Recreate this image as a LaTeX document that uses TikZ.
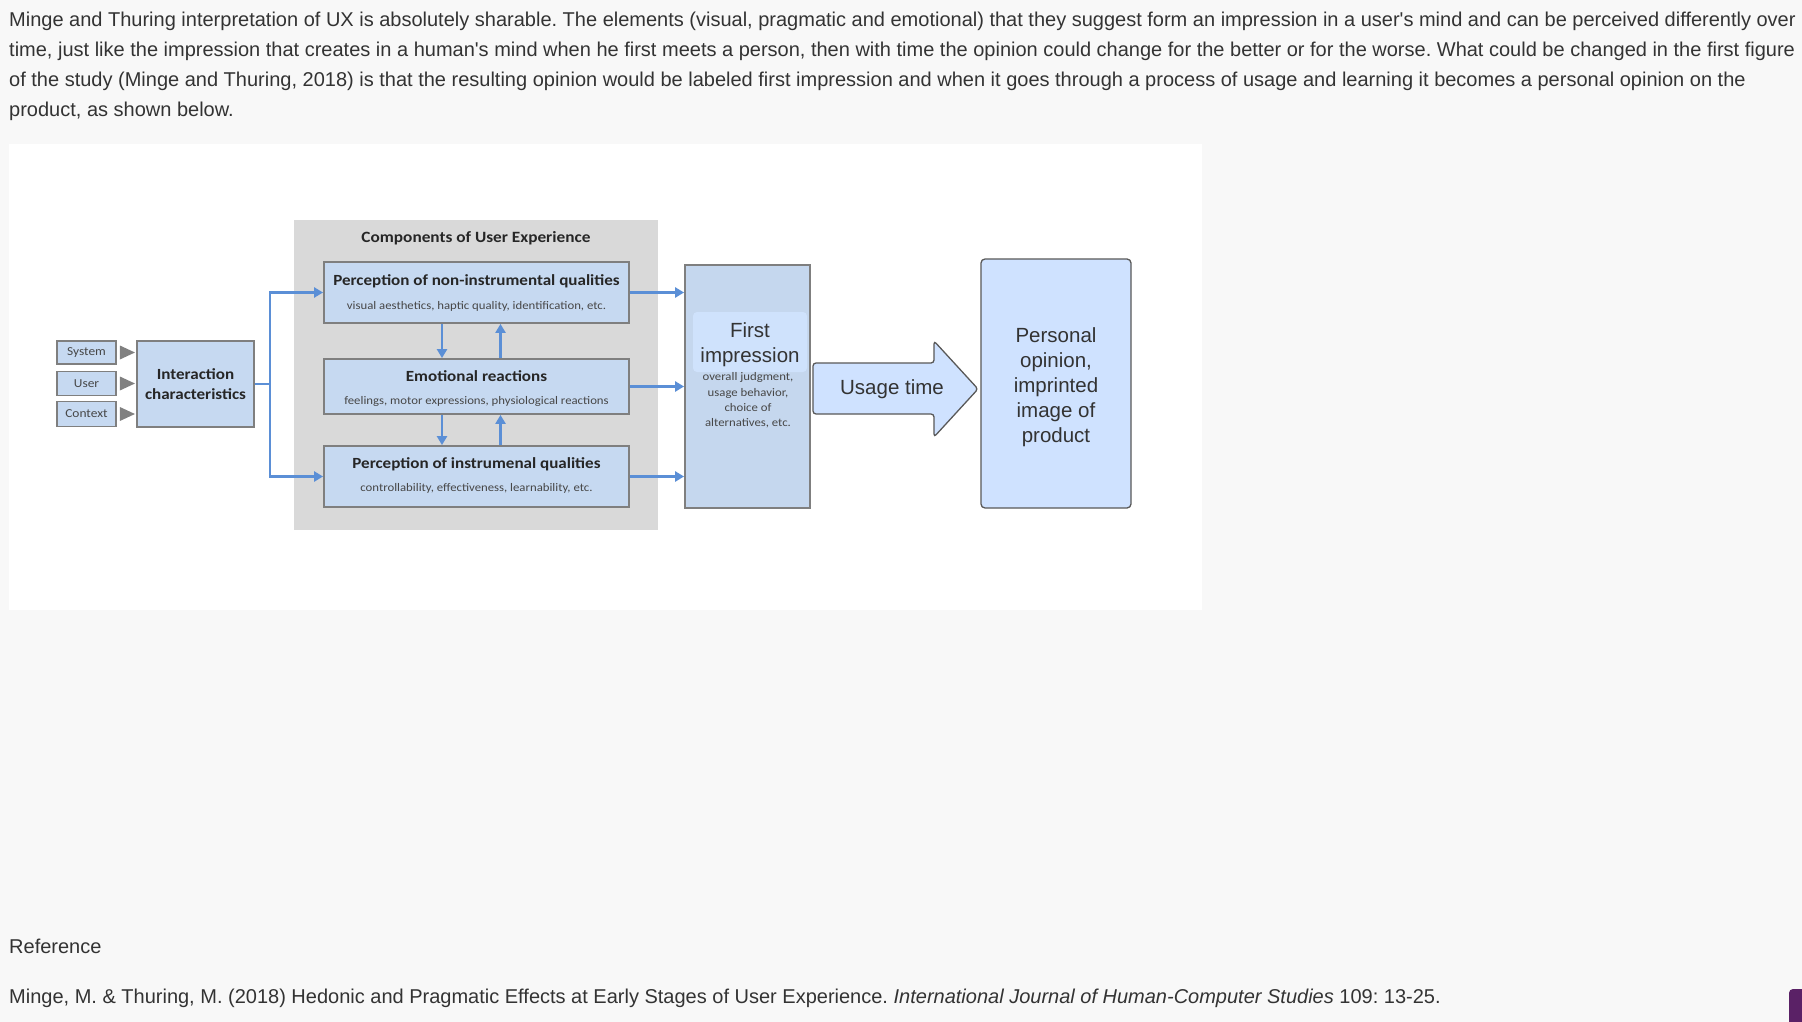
\documentclass[tikz,border=0pt]{standalone}
\usepackage{fontspec}
\setmainfont{Liberation Sans}
\newfontfamily\carl{Carlito}[FakeStretch=1.1]
\usetikzlibrary{arrows.meta}
\frenchspacing
\definecolor{pagebg}{HTML}{F8F8F8}
\definecolor{graybg}{HTML}{D9D9D9}
\definecolor{boxblue}{HTML}{C6D9F1}
\definecolor{boxborder}{HTML}{7F7F7F}
\definecolor{arrowblue}{HTML}{5B8FD6}
\definecolor{fiblue}{HTML}{C5D7EE}
\definecolor{fiinner}{HTML}{CFE2FC}
\definecolor{lightblue}{HTML}{CFE2FF}
\definecolor{darkborder}{HTML}{595959}
\definecolor{textgray}{HTML}{333333}
\definecolor{diagtext}{HTML}{262626}
\definecolor{cornerpurple}{HTML}{5A2166}
\definecolor{trigray}{HTML}{808080}
\tikzset{
  para/.style={anchor=base west, inner sep=0pt, text=textgray, font=\fontsize{20}{24}\selectfont},
  bluebox/.style={draw=boxborder, line width=1.8pt, fill=boxblue, inner sep=0pt},
  smallbox/.style={bluebox, minimum width=59pt},
  ttl/.style={inner sep=0pt, text=diagtext, font=\carl\bfseries\fontsize{15.5}{18}\selectfont},
  sub/.style={inner sep=0pt, text=diagtext!85, font=\carl\fontsize{11.6}{13}\selectfont},
  bluearrow/.style={draw=arrowblue, line width=2.6pt, -{Triangle[length=9pt,width=10pt]}},
  blueline/.style={draw=arrowblue, line width=2.6pt},
  tri/.style={fill=trigray},
  arial/.style={inner sep=0pt, text=textgray, font=\fontsize{20.5}{25}\selectfont, align=center},
}
\begin{document}
\begin{tikzpicture}[x=1pt,y=-1pt]
\useasboundingbox (0,0) rectangle (1802,1022);
\fill[pagebg] (0,0) rectangle (1802,1022);
\fill[white] (9,144) rectangle (1202,610);
\fill[cornerpurple, rounded corners=4pt] (1789,989) rectangle (1815,1035);

% paragraph
\node[para] (p1) at (9,26.5) {Minge and Thuring interpretation of UX is absolutely sharable. The elements (visual, pragmatic and emotional) that they suggest form an impression in a user\textquotesingle s mind and can be perceived differently over};
\node[para] (p2) at (9,56.5) {time, just like the impression that creates in a human\textquotesingle s mind when he first meets a person, then with time the opinion could change for the better or for the worse. What could be changed in the first figure};
\node[para] (p3) at (9,86.5) {of the study (Minge and Thuring, 2018) is that the resulting opinion would be labeled first impression and when it goes through a process of usage and learning it becomes a personal opinion on the};
\node[para] (p4) at (9,116.5) {product, as shown below.};

\node[para] (refh) at (9,953) {Reference};
\node[para] (cite) at (9,1003) {Minge, M. \& Thuring, M. (2018) Hedonic and Pragmatic Effects at Early Stages of User Experience. \textit{International Journal of Human-Computer Studies} 109: 13-25.};

% left inputs
\node[smallbox, minimum height=23pt] (sys) at (86.5,352.5) {\carl\fontsize{12.2}{14}\selectfont\color{diagtext!85}System};
\node[smallbox, minimum height=24pt] (usr) at (86.5,383.5) {\carl\fontsize{12.2}{14}\selectfont\color{diagtext!85}User};
\node[smallbox, minimum height=25pt] (ctx) at (86.5,414) {\carl\fontsize{12.2}{14}\selectfont\color{diagtext!85}Context};
\node[bluebox, minimum width=117pt, minimum height=86pt, align=center, text=diagtext,
      font=\carl\bfseries\fontsize{15.5}{20}\selectfont] (inter) at (195.5,384) {Interaction\\characteristics};
\foreach \n in {sys,usr,ctx}{
  \fill[tri] ([xshift=3pt]\n.east) ++(0,-7) -- ++(15,7) -- ++(-15,7) -- cycle;
}

% components area
\node[fill=graybg, minimum width=364pt, minimum height=310pt, inner sep=0pt] (ux) at (476,375) {};
\node[ttl, font=\carl\bfseries\fontsize{15.7}{18}\selectfont] (uxt) at (476,238) {Components of User Experience};

\node[bluebox, minimum width=305pt, minimum height=61pt] (b1) at (476.5,292.5) {};
\node[bluebox, minimum width=305pt, minimum height=55pt] (b2) at (476.5,386.5) {};
\node[bluebox, minimum width=305pt, minimum height=61pt] (b3) at (476.5,476.5) {};
\node[ttl] (b1t) at (476.5,281) {Perception of non-instrumental qualities};
\node[sub] (b1s) at (476.5,306) {visual aesthetics, haptic quality, identification, etc.};
\node[ttl] (b2t) at (476.5,376) {Emotional reactions};
\node[sub] (b2s) at (476.5,401) {feelings, motor expressions, physiological reactions};
\node[ttl] (b3t) at (476.5,464) {Perception of instrumenal qualities};
\node[sub] (b3s) at (476.5,488) {controllability, effectiveness, learnability, etc.};

\coordinate (j) at (270,384);
\draw[blueline] (inter.east) -- (j);
\draw[bluearrow] (j) |- (b1.west);
\draw[bluearrow] (j) |- (b3.west);

\draw[bluearrow] ([xshift=-34.5pt]b1.south) -- ([xshift=-34.5pt]b2.north);
\draw[bluearrow] ([xshift=24pt]b2.north) -- ([xshift=24pt]b1.south);
\draw[bluearrow] ([xshift=-34.5pt]b2.south) -- ([xshift=-34.5pt]b3.north);
\draw[bluearrow] ([xshift=24pt]b3.north) -- ([xshift=24pt]b2.south);

% first impression
\node[draw=boxborder, line width=1.8pt, fill=fiblue, minimum width=125pt, minimum height=243pt, inner sep=0pt] (fi) at (747.5,386.5) {};
\node[fill=fiinner, rounded corners=4pt, minimum width=114pt, minimum height=60pt, inner sep=0pt] (fiin) at (750,342) {};
\node[arial] (fit) at (750,344.5) {First\\impression};
\node[inner sep=0pt, align=center, text=diagtext!85, font=\carl\fontsize{11.6}{15.3}\selectfont] (fis) at (748,400.5) {overall judgment,\\usage behavior,\\choice of\\alternatives, etc.};

\draw[bluearrow] (b1.east) -- (b1.east -| fi.west);
\draw[bluearrow] (b2.east) -- (b2.east -| fi.west);
\draw[bluearrow] (b3.east) -- (b3.east -| fi.west);

% usage time arrow
\draw[fill=lightblue, draw=darkborder, line width=1.3pt, rounded corners=3pt]
  (813,363) -- (934,363) -- (934,341) -- (978,389) -- (934,437) -- (934,414) -- (813,414) -- cycle;
\node[arial] (ut) at (892,389.5) {Usage time};

% personal opinion
\node[draw=darkborder, line width=1.3pt, fill=lightblue, rounded corners=4pt, minimum width=150pt, minimum height=249pt, inner sep=0pt] (po) at (1056,383.5) {};
\node[arial] (pot) at (1056,387.5) {Personal\\opinion,\\imprinted\\image of\\product};
\end{tikzpicture}
\end{document}
